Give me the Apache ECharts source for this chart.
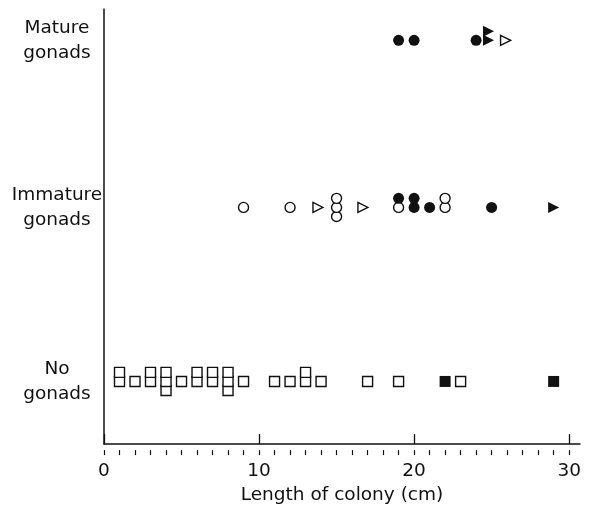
<!DOCTYPE html>
<html>
<head>
<meta charset="utf-8">
<script src="https://cdn.jsdelivr.net/npm/echarts@6/dist/echarts.min.js"></script>
<style>
  html, body { margin: 0; padding: 0; background: #fff; }
  #chart { width: 591px; height: 510px; }
</style>
</head>
<body>
<div id="chart"></div>
<script>
// rows, bottom to top, and where each sits on the hidden y scale
const rowNames = ["No\ngonads", "Immature\ngonads", "Mature\ngonads"];
const rowLevels = [0, 1, 1.96];
const xTicks = [0, 10, 20, 30];
const xMinorTicks = [0, 1, 2, 3, 4, 5, 6, 7, 8, 9, 10, 11, 12, 13, 14, 15,
  16, 17, 18, 19, 20, 21, 22, 23, 24, 25, 26, 27, 28, 29, 30];

// each point: [length of colony (cm), row index, stack slot]
const openSquares = [
  [1, 0, 0], [1, 0, 1], [2, 0, 0], [3, 0, 0], [3, 0, 1],
  [4, 0, -1], [4, 0, 0], [4, 0, 1], [5, 0, 0], [6, 0, 0], [6, 0, 1],
  [7, 0, 0], [7, 0, 1], [8, 0, -1], [8, 0, 0], [8, 0, 1], [9, 0, 0],
  [11, 0, 0], [12, 0, 0], [13, 0, 0], [13, 0, 1], [14, 0, 0],
  [17, 0, 0], [19, 0, 0], [23, 0, 0]
];
const filledSquares = [[22, 0, 0], [29, 0, 0]];
const openCircles = [
  [9, 1, 0], [12, 1, 0], [15, 1, -1], [15, 1, 0], [15, 1, 1],
  [19, 1, 0], [22, 1, 0], [22, 1, 1]
];
const filledCircles = [
  [19, 1, 1], [20, 1, 0], [20, 1, 1], [21, 1, 0], [25, 1, 0],
  [19, 2, 0], [20, 2, 0], [24, 2, 0]
];
const openTriangles = [[13.8, 1, 0], [16.7, 1, 0], [25.9, 2, 0]];
const filledTriangles = [[29, 1, 0], [24.8, 2, 0], [24.8, 2, 1]];

const stackStep = 0.052;
const ink = "#111";

let toXY = (pts) => pts.map((p) => [p[0], rowLevels[p[1]] + p[2] * stackStep]);

let makeSeries = (pts, symbol, filled, size, rotate) => ({
  type: "scatter",
  data: toXY(pts),
  symbol: symbol,
  symbolSize: size,
  symbolRotate: rotate || 0,
  itemStyle: {
    color: filled ? ink : "#fff",
    borderColor: ink,
    borderWidth: filled ? 0 : 1.4,
    opacity: 1,
  },
  z: filled ? 3 : 2,
});

let chart = echarts.init(document.getElementById("chart"));
let option = {
  animation: false,
  textStyle: { fontFamily: "DejaVu Sans", color: ink },
  grid: { left: 104, right: 11, top: 9, bottom: 62 },
  xAxis: [
    {
      type: "value",
      min: 0,
      max: 30.7,
      name: "Length of colony (cm)",
      nameLocation: "middle",
      nameGap: 31,
      nameTextStyle: { fontSize: 18.5, color: ink, fontFamily: "DejaVu Sans" },
      axisLine: { show: true, onZero: false, lineStyle: { color: ink, width: 1.5 } },
      axisTick: { show: true, inside: true, length: 10, customValues: xTicks, lineStyle: { color: ink, width: 1.3 } },
      axisLabel: { customValues: xTicks, fontSize: 18.5, color: ink, margin: 18, fontFamily: "DejaVu Sans" },
      splitLine: { show: false },
    },
    {
      type: "value",
      min: 0,
      max: 30.7,
      position: "bottom",
      offset: 6,
      axisLine: { show: false, onZero: false },
      axisTick: { show: true, length: 5, customValues: xMinorTicks, lineStyle: { color: ink, width: 1.2 } },
      axisLabel: { show: false },
      splitLine: { show: false },
    },
  ],
  yAxis: {
    type: "value",
    min: -0.36,
    max: 2.14,
    axisLine: { show: true, onZero: false, lineStyle: { color: ink, width: 1.5 } },
    axisTick: { show: false },
    splitLine: { show: false },
    axisLabel: {
      customValues: rowLevels,
      align: "center",
      margin: 47,
      fontSize: 18.5,
      lineHeight: 25,
      color: ink,
      fontFamily: "DejaVu Sans",
      formatter: (v) => {
        let i = rowLevels.findIndex((l) => Math.abs(l - v) < 1e-6);
        return i >= 0 ? rowNames[i] : "";
      },
    },
  },
  series: [
    makeSeries(openSquares, "rect", false, 10),
    makeSeries(filledSquares, "rect", true, 11),
    makeSeries(openCircles, "circle", false, 10),
    makeSeries(filledCircles, "circle", true, 11),
    makeSeries(openTriangles, "triangle", false, [10, 10], -90),
    makeSeries(filledTriangles, "triangle", true, [11, 11], -90),
  ],
};
chart.setOption(option);
window.addEventListener("resize", () => chart.resize());
</script>
</body>
</html>
